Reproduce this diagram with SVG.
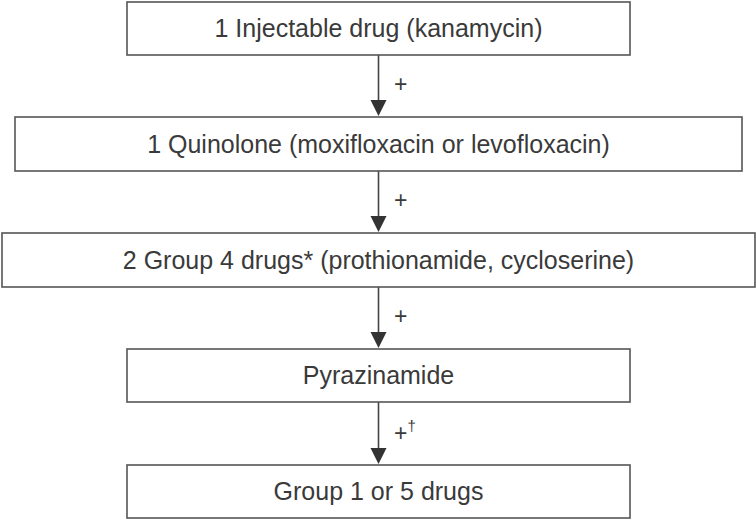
<svg xmlns="http://www.w3.org/2000/svg" width="756" height="521" viewBox="0 0 756 521">
<defs>
<style>
.box{fill:#fff;stroke:#555;stroke-width:1.6}
.t{font-family:"Liberation Sans",Arial,sans-serif;font-size:25px;fill:#3a3a3a;text-anchor:middle}
.p{font-family:"Liberation Sans",Arial,sans-serif;font-size:23px;fill:#3a3a3a}
.c{stroke:#444;stroke-width:1.6;fill:none}
.h{fill:#333}
</style>
</defs>
<rect width="756" height="521" fill="#fff"/>
<g id="connectors">
<line class="c" x1="378.5" y1="55" x2="378.5" y2="100"/>
<path class="h" d="M370.5,100 L386.5,100 L378.5,116 Z"/>
<line class="c" x1="378.5" y1="171" x2="378.5" y2="216"/>
<path class="h" d="M370.5,216 L386.5,216 L378.5,232 Z"/>
<line class="c" x1="378.5" y1="287" x2="378.5" y2="332"/>
<path class="h" d="M370.5,332 L386.5,332 L378.5,348 Z"/>
<line class="c" x1="378.5" y1="402" x2="378.5" y2="448"/>
<path class="h" d="M370.5,448 L386.5,448 L378.5,464 Z"/>
<text class="p" x="394" y="92">+</text>
<text class="p" x="394" y="208">+</text>
<text class="p" x="394" y="324">+</text>
<text class="p" x="394" y="441">+<tspan font-size="15" dy="-10" fill="#3a3a3a">†</tspan></text>
</g>
<g id="n1"><rect class="box" x="127" y="2" width="503" height="53"/><text class="t" x="378.5" y="37">1 Injectable drug (kanamycin)</text></g>
<g id="n2"><rect class="box" x="15" y="117" width="727" height="54"/><text class="t" x="378.5" y="153">1 Quinolone (moxifloxacin or levofloxacin)</text></g>
<g id="n3"><rect class="box" x="2" y="233" width="753" height="54"/><text class="t" x="378.5" y="269">2 Group 4 drugs* (prothionamide, cycloserine)</text></g>
<g id="n4"><rect class="box" x="127" y="349" width="503" height="53"/><text class="t" x="378.5" y="384">Pyrazinamide</text></g>
<g id="n5"><rect class="box" x="127" y="465" width="503" height="53"/><text class="t" x="378.5" y="500">Group 1 or 5 drugs</text></g>
</svg>
